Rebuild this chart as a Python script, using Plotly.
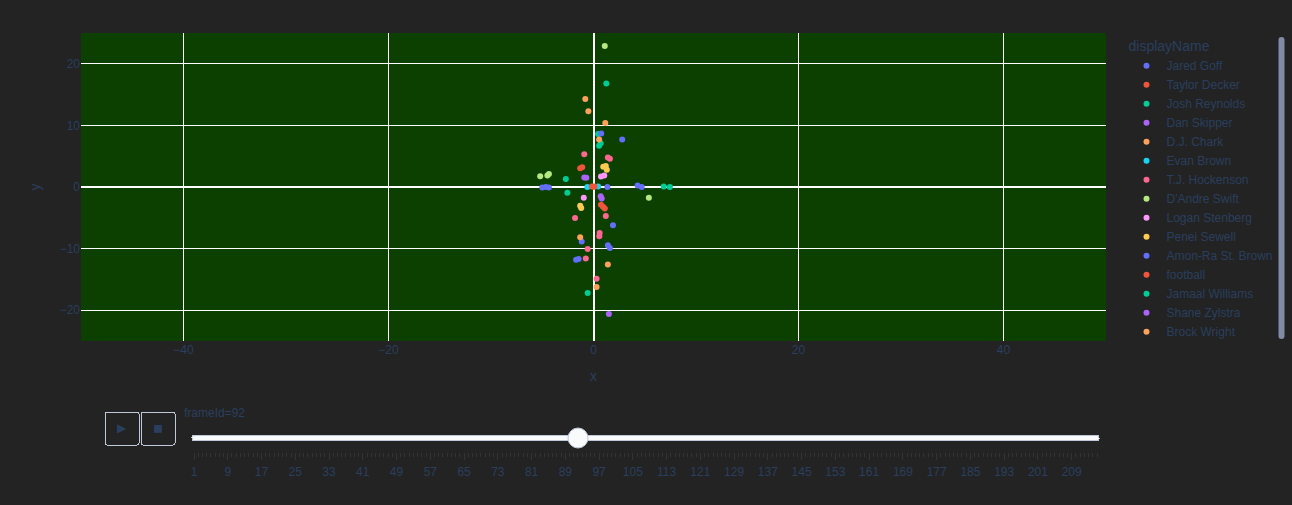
import plotly.graph_objects as go

players = ["Jared Goff", "Taylor Decker", "Josh Reynolds", "Dan Skipper", "D.J. Chark",
           "Evan Brown", "T.J. Hockenson", "D'Andre Swift", "Logan Stenberg", "Penei Sewell",
           "Amon-Ra St. Brown", "football", "Jamaal Williams", "Shane Zylstra", "Brock Wright"]

colors = ["#636efa", "#EF553B", "#00cc96", "#ab63fa", "#FFA15A", "#19d3f3", "#FF6692",
          "#B6E880", "#FF97FF", "#FECB52", "#636efa", "#EF553B", "#00cc96", "#ab63fa", "#FFA15A"]

# positions at frameId 92
x_vals = {
    "Jared Goff": [-5.0, -4.65, -4.35],
    "Taylor Decker": [-1.3, -1.1, 0.73, 0.93, 1.1],
    "Josh Reynolds": [1.25, 0.45, 0.7, 0.55],
    "Dan Skipper": [-0.9, -0.7, 0.7, 0.8],
    "D.J. Chark": [-0.8, -0.5, 1.15, 0.55],
    "Evan Brown": [-0.6, 0.45],
    "T.J. Hockenson": [-0.9, 1.4, 1.6, -1.8, 1.2, 0.6, 0.57, -0.57, -0.75, 0.3],
    "D'Andre Swift": [1.1, -5.2, -4.5, -4.35, 5.4],
    "Logan Stenberg": [0.73, 1.05, -0.95],
    "Penei Sewell": [0.95, 1.2, 1.3, -1.3, -1.2],
    "Amon-Ra St. Brown": [0.75, 2.8, 1.35, 4.3, 4.7, 1.9, -1.15, 1.4, 1.6, -1.7, -1.45],
    "football": [-0.15, 0.0, 0.1],
    "Jamaal Williams": [-2.7, -2.55, 6.85, 7.45, -0.57],
    "Shane Zylstra": [1.5],
    "Brock Wright": [-1.3, 1.4, 0.3],
}
y_vals = {
    "Jared Goff": [-0.1, 0.0, -0.1],
    "Taylor Decker": [3.05, 3.2, -2.9, -3.2, -3.5],
    "Josh Reynolds": [16.8, 8.6, 7.1, 6.7],
    "Dan Skipper": [1.55, 1.5, -1.5, -1.85],
    "D.J. Chark": [14.3, 12.3, 10.4, 7.7],
    "Evan Brown": [0.0, 0.1],
    "T.J. Hockenson": [5.3, 4.8, 4.6, -5.05, -4.7, -7.45, -8.0, -10.05, -11.6, -14.9],
    "D'Andre Swift": [22.9, 1.75, 1.85, 2.1, -1.75],
    "Logan Stenberg": [1.7, 1.85, -1.75],
    "Penei Sewell": [3.3, 3.4, 2.8, -3.05, -3.4],
    "Amon-Ra St. Brown": [8.7, 7.7, 0.0, 0.25, 0.0, -6.2, -8.85, -9.45, -9.9, -11.8, -11.7],
    "football": [0.1, 0.05, 0.1],
    "Jamaal Williams": [1.3, -0.95, 0.1, 0.0, -17.2],
    "Shane Zylstra": [-20.6],
    "Brock Wright": [-8.15, -12.6, -16.25],
}

frame_ids = list(range(1, 216))
current_frame = 92


def make_traces():
    traces = []
    for name, col in zip(players, colors):
        traces.append(go.Scatter(
            x=x_vals[name], y=y_vals[name], mode="markers", name=name,
            legendgroup=name, showlegend=True,
            marker=dict(color=col, symbol="circle"),
            hovertemplate="displayName=" + name + "<br>frameId=" + str(current_frame)
                          + "<br>x=%{x}<br>y=%{y}<extra></extra>",
        ))
    return traces


fig = go.Figure(data=make_traces(),
                frames=[go.Frame(data=make_traces(), name=str(current_frame))])

# labels shown on the slider are plain; hidden intermediate labels get thin-space
# padding so the slider picks the same label stride (8) as the reference
THIN = "\u2009"
steps = []
for i, f in enumerate(frame_ids):
    lab = str(f) if (i % 8 == 0 or f == current_frame) else THIN + str(f) + THIN
    steps.append(dict(args=[[str(f)], dict(frame=dict(duration=0, redraw=False), mode="immediate",
                                          fromcurrent=True, transition=dict(duration=0, easing="linear"))],
                      label=lab, method="animate"))

fig.update_layout(
    template="plotly",
    font=dict(family="Liberation Sans, Arial, sans-serif"),
    paper_bgcolor="#232323",
    plot_bgcolor="#0b4000",
    margin=dict(t=33, l=81, r=186, b=164),
    xaxis=dict(title=dict(text="x"), range=[-50, 50]),
    yaxis=dict(title=dict(text="y"), range=[-25, 25]),
    legend=dict(title=dict(text="displayName"), tracegroupgap=0),
    updatemenus=[dict(
        buttons=[
            dict(args=[None, dict(frame=dict(duration=500, redraw=False), mode="immediate",
                                  fromcurrent=True, transition=dict(duration=500, easing="linear"))],
                 label="&#9654;", method="animate"),
            dict(args=[[None], dict(frame=dict(duration=0, redraw=False), mode="immediate",
                                    fromcurrent=True, transition=dict(duration=0, easing="linear"))],
                 label="&#9724;", method="animate"),
        ],
        direction="left", pad=dict(r=10, t=70), showactive=False, type="buttons",
        x=0.1, xanchor="right", y=0, yanchor="top")],
    sliders=[dict(
        active=frame_ids.index(current_frame),
        currentvalue=dict(prefix="frameId=", offset=13),
        len=0.9, pad=dict(b=10, t=60), steps=steps,
        x=0.1, xanchor="left", y=0, yanchor="top")],
)

post = ("document.body.style.margin='0';document.body.style.background='#232323';"
        "var gd=document.getElementById('{plot_id}');Plotly.Plots.resize(gd);")
fig.write_html("out.html", post_script=post, config=dict(displayModeBar=False))
